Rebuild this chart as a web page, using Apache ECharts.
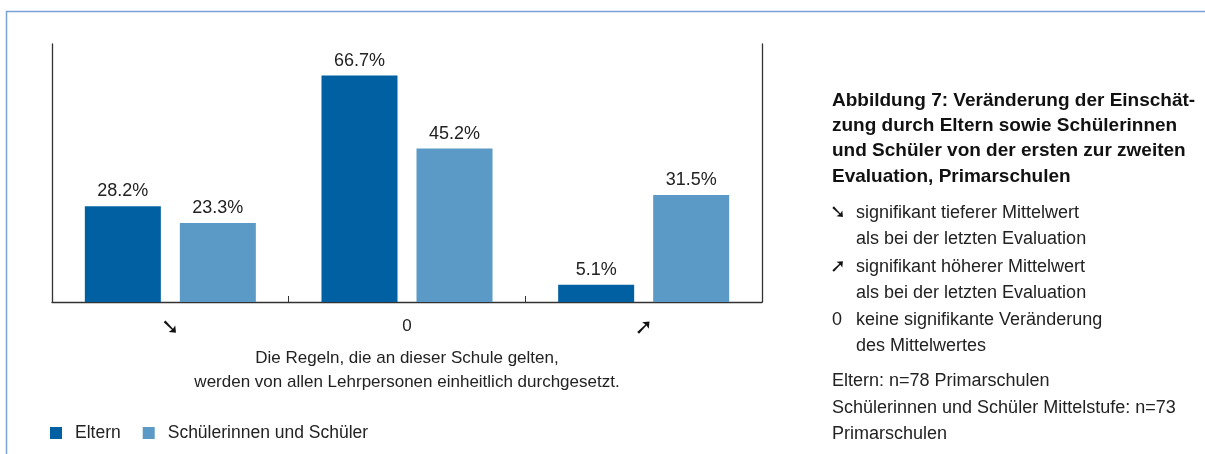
<!DOCTYPE html>
<html>
<head>
<meta charset="utf-8">
<script src="https://cdn.jsdelivr.net/npm/echarts@6/dist/echarts.min.js"></script>
<style>
  html, body { margin: 0; padding: 0; background: #fff; }
  #chart { width: 1205px; height: 454px; }
</style>
</head>
<body>
<div id="chart"></div>
<script>
// categories: significance of the change (lower / none / higher)
var categories = ['\u2798', '0', '\u279A'];
var eltern = [28.2, 66.7, 5.1];
var schueler = [23.3, 45.2, 31.5];
var seriesNames = ['Eltern', 'Schülerinnen und Schüler'];

var FONT = '"Liberation Sans", Arial, "DejaVu Sans", sans-serif';
var TXT = '#222';

var chart = echarts.init(document.getElementById('chart'));

function pct(p) {
    return p.value.toFixed(1) + '%';
}

var opt = {
    color: ['#0060a1', '#5b9ac6'],
    textStyle: { fontFamily: FONT },
    animation: false,
    grid: {
        left: 52,
        right: 443,
        top: 44,
        bottom: 152
    },
    legend: {
        data: seriesNames,
        left: 50,
        top: 424,
        padding: 0,
        icon: 'rect',
        itemWidth: 12,
        itemHeight: 12,
        itemGap: 22,
        textStyle: { fontSize: 17.5, color: TXT, fontFamily: FONT, padding: [0, 0, 0, 8] }
    },
    xAxis: {
        type: 'category',
        data: categories,
        axisLine: { lineStyle: { color: '#333', width: 1.3 } },
        axisTick: { show: true, inside: true, length: 6, lineStyle: { color: '#333' } },
        axisLabel: {
            fontSize: 17,
            color: TXT,
            margin: 16,
            fontFamily: FONT,
            rich: {
                arr: { fontSize: 22, fontWeight: 'bold', fontFamily: '"DejaVu Sans"', color: '#111', lineHeight: 20 }
            },
            formatter: function (v) {
                return v === '0' ? v : '{arr|' + v + '}';
            }
        },
        name: 'Die Regeln, die an dieser Schule gelten,\nwerden von allen Lehrpersonen einheitlich durchgesetzt.',
        nameLocation: 'middle',
        nameGap: 44,
        nameTextStyle: { fontSize: 17, color: TXT, lineHeight: 24, fontFamily: FONT }
    },
    yAxis: [
        {
            type: 'value',
            min: 0,
            max: 76,
            axisLine: { show: true, lineStyle: { color: '#333', width: 1.3 } },
            axisTick: { show: false },
            axisLabel: { show: false },
            splitLine: { show: false }
        },
        {
            type: 'value',
            position: 'right',
            min: 0,
            max: 76,
            axisLine: { show: true, lineStyle: { color: '#333', width: 1.3 } },
            axisTick: { show: false },
            axisLabel: { show: false },
            splitLine: { show: false }
        }
    ],
    series: [
        {
            name: seriesNames[0],
            type: 'bar',
            barWidth: 76,
            barGap: '25%',
            data: eltern,
            label: { show: true, position: 'top', distance: 6, fontSize: 18, color: TXT, fontFamily: FONT, formatter: pct }
        },
        {
            name: seriesNames[1],
            type: 'bar',
            barWidth: 76,
            barGap: '25%',
            data: schueler,
            label: { show: true, position: 'top', distance: 6, fontSize: 18, color: TXT, fontFamily: FONT, formatter: pct }
        }
    ],
    graphic: [
        // frame
        { type: 'line', shape: { x1: 6, y1: 11.5, x2: 1205, y2: 11.5 }, style: { stroke: '#7ba1d6', lineWidth: 1.5 } },
        { type: 'line', shape: { x1: 6.5, y1: 11, x2: 6.5, y2: 454 }, style: { stroke: '#7ba1d6', lineWidth: 1.5 } },
        // caption
        {
            type: 'text', left: 832, top: 88,
            style: {
                text: 'Abbildung 7: Veränderung der Einschät-\nzung durch Eltern sowie Schülerinnen\nund Schüler von der ersten zur zweiten\nEvaluation, Primarschulen',
                font: 'bold 19px ' + FONT, fill: '#111', lineHeight: 25.3
            }
        },
        // key
        { type: 'text', left: 830, top: 200, style: { text: '\u2798', font: 'bold 19px "DejaVu Sans"', fill: '#111', lineHeight: 26 } },
        { type: 'text', left: 856, top: 200, style: { text: 'signifikant tieferer Mittelwert\nals bei der letzten Evaluation', font: '18px ' + FONT, fill: TXT, lineHeight: 26 } },
        { type: 'text', left: 830, top: 254, style: { text: '\u279A', font: 'bold 19px "DejaVu Sans"', fill: '#111', lineHeight: 26 } },
        { type: 'text', left: 856, top: 254, style: { text: 'signifikant höherer Mittelwert\nals bei der letzten Evaluation', font: '18px ' + FONT, fill: TXT, lineHeight: 26 } },
        { type: 'text', left: 832, top: 307, style: { text: '0', font: '18px ' + FONT, fill: TXT, lineHeight: 26 } },
        { type: 'text', left: 856, top: 307, style: { text: 'keine signifikante Veränderung\ndes Mittelwertes', font: '18px ' + FONT, fill: TXT, lineHeight: 26 } },
        // sample sizes
        {
            type: 'text', left: 832, top: 368,
            style: {
                text: 'Eltern: n=78 Primarschulen\nSchülerinnen und Schüler Mittelstufe: n=73\nPrimarschulen',
                font: '18px ' + FONT, fill: TXT, lineHeight: 26.5
            }
        }
    ]
};

chart.setOption(opt);

window.addEventListener('resize', function () {
    chart.resize();
});
</script>
</body>
</html>
